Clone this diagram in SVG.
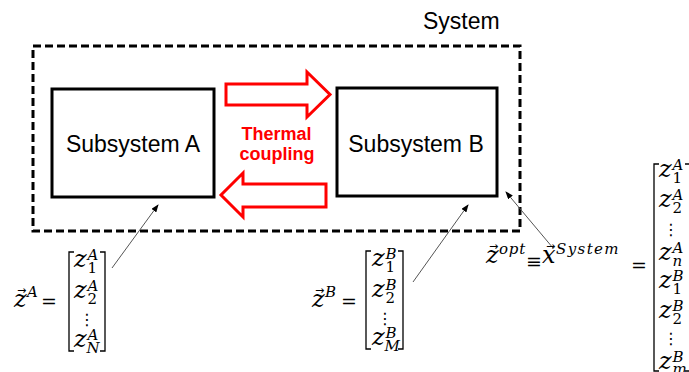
<svg xmlns="http://www.w3.org/2000/svg" width="689" height="372" viewBox="0 0 689 372">
<style>
.lbl{font-family:"Liberation Sans",Arial,sans-serif;fill:#000}
.box{fill:#fff;stroke:#000;stroke-width:3}
.red{fill:#fff;stroke:#ff0000;stroke-width:3;stroke-linejoin:miter}
.rt{font-family:"Liberation Sans",Arial,sans-serif;font-weight:bold;font-size:18px;fill:#ff0000;text-anchor:middle}
.m{font-family:"DejaVu Serif",serif;font-style:italic;font-size:24px;fill:#000}
.s{font-family:"DejaVu Serif",serif;font-style:italic;font-size:15px;fill:#000}
.d{font-family:"DejaVu Serif",serif;font-size:15px;fill:#000}
.op{font-family:"DejaVu Serif",serif;font-size:19px;fill:#000}
.va{font-family:"DejaVu Sans",sans-serif;font-size:11px;fill:#000}
.dots{font-family:"DejaVu Sans",sans-serif;font-size:16px;fill:#000;text-anchor:middle}
.br{fill:none;stroke:#000;stroke-width:1.3}
.con{fill:none;stroke:#555;stroke-width:1}
</style>
<defs>
<marker id="ah" markerWidth="8" markerHeight="6" refX="7" refY="3" orient="auto" markerUnits="userSpaceOnUse"><path d="M0,0 L8,3 L0,6 z" fill="#000"/></marker>
</defs>

<g id="system">
<rect x="33" y="46" width="487" height="185" fill="none" stroke="#000" stroke-width="3" stroke-dasharray="8 4"/>
<text class="lbl" x="423" y="29" font-size="23">System</text>
</g>

<g id="subsystemA">
<rect class="box" x="52" y="89" width="162" height="108"/>
<text class="lbl" x="133" y="152" font-size="23" text-anchor="middle">Subsystem A</text>
</g>

<g id="subsystemB">
<rect class="box" x="337" y="88" width="160" height="108"/>
<text class="lbl" x="416" y="152" font-size="23" text-anchor="middle">Subsystem B</text>
</g>

<g id="thermal">
<polygon class="red" points="226,84 307,84 307,72 330,94.5 307,117 307,105 226,105"/>
<polygon class="red" points="326,184 243,184 243,173 221,195 243,217 243,207 326,207"/>
<text class="rt" x="276.5" y="140">Thermal</text>
<text class="rt" x="277" y="160">coupling</text>
</g>

<g id="connectors">
<line class="con" x1="112" y1="268" x2="158" y2="205" marker-end="url(#ah)"/>
<line class="con" x1="413" y1="282" x2="468" y2="205" marker-end="url(#ah)"/>
<line class="con" x1="553" y1="248" x2="506" y2="192" marker-end="url(#ah)"/>
</g>

<g id="vecA">
<text class="va" x="17" y="294">→</text>
<text class="m" x="14" y="307">z</text>
<text class="s" x="27" y="297">A</text>
<text class="op" x="41" y="308">=</text>
<path class="br" d="M74,252 H69 V351 H74 M100,252 H105 V351 H100"/>
<text class="m" x="74" y="267">z</text><text class="s" x="87.5" y="260">A</text><text class="d" x="87.5" y="273">1</text>
<text class="m" x="74" y="298">z</text><text class="s" x="87.5" y="291">A</text><text class="d" x="87.5" y="304">2</text>
<text class="dots" x="87" y="325">⋮</text>
<text class="m" x="74" y="347">z</text><text class="s" x="87.5" y="340">A</text><text class="s" x="86.5" y="353">N</text>
</g>

<g id="vecB">
<text class="va" x="315" y="294">→</text>
<text class="m" x="312" y="307">z</text>
<text class="s" x="325" y="297">B</text>
<text class="op" x="341" y="308">=</text>
<path class="br" d="M371,251 H366 V349 H371 M398,251 H403 V349 H398"/>
<text class="m" x="372" y="266">z</text><text class="s" x="385.5" y="259">B</text><text class="d" x="385.5" y="272">1</text>
<text class="m" x="372" y="297">z</text><text class="s" x="385.5" y="290">B</text><text class="d" x="385.5" y="303">2</text>
<text class="dots" x="385" y="324">⋮</text>
<text class="m" x="372" y="345">z</text><text class="s" x="385.5" y="338">B</text><text class="s" x="384.5" y="351">M</text>
</g>

<g id="vecSys">
<text class="va" x="489" y="250">→</text>
<text class="m" x="486" y="263">z</text>
<text class="s" x="499" y="254" font-size="17" letter-spacing="0.8">opt</text>
<text class="op" x="526" y="268" font-size="16">≡</text>
<text class="va" x="546" y="250">→</text>
<text class="m" x="542" y="263">x</text>
<text class="s" x="556" y="254" font-size="18" letter-spacing="1.4">System</text>
<text class="op" x="631" y="272" font-size="19">=</text>
<path class="br" d="M659,164 H654 V371 H659 M685,164 H689 M685,371 H689"/>
<text class="m" x="659" y="177">z</text><text class="s" x="672.5" y="170">A</text><text class="d" x="672.5" y="183">1</text>
<text class="m" x="659" y="207">z</text><text class="s" x="672.5" y="200">A</text><text class="d" x="672.5" y="213">2</text>
<text class="dots" x="671" y="235">⋮</text>
<text class="m" x="659" y="260">z</text><text class="s" x="672.5" y="253">A</text><text class="s" x="672.5" y="266">n</text>
<text class="m" x="659" y="288">z</text><text class="s" x="672.5" y="281">B</text><text class="d" x="672.5" y="294">1</text>
<text class="m" x="659" y="318">z</text><text class="s" x="672.5" y="311">B</text><text class="d" x="672.5" y="324">2</text>
<text class="dots" x="671" y="344">⋮</text>
<text class="m" x="659" y="369">z</text><text class="s" x="672.5" y="362">B</text><text class="s" x="672.5" y="374">m</text>
</g>
</svg>
